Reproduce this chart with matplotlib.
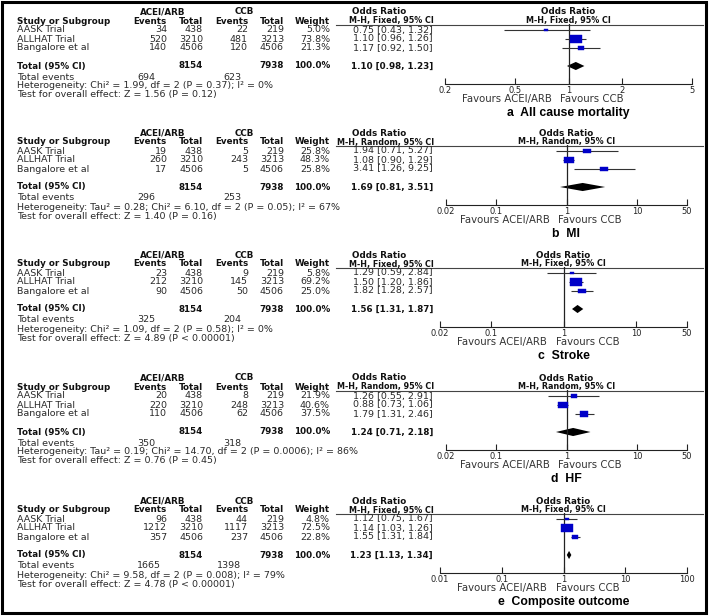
import matplotlib as mpl
import matplotlib.pyplot as plt
import numpy as np
from matplotlib.path import Path
from matplotlib.patches import Rectangle

mpl.rcParams.update({
    "font.family": ["DejaVu Sans"],
    "font.size": 6.8,
    "text.color": "#222222",
})

W, H = 709, 616
INK = "#222222"
BOX = "#0000C8"
HEAD_SIZE = 6.3   # bold column headers
MH_SIZE = 5.8     # "M-H, Fixed, 95% CI" header lines

# shared study columns
studies = ["AASK Trial", "ALLHAT Trial", "Bangalore et al"]
acei_total = [438, 3210, 4506]
ccb_total = [219, 3213, 4506]
acei_sum, ccb_sum = 8154, 7938

# a  all cause mortality
mort_acei = [34, 520, 140]
mort_ccb = [22, 481, 120]
mort_weight = [5.0, 73.8, 21.3]
mort_or = [0.75, 1.10, 1.17]
mort_lo = [0.43, 0.96, 0.92]
mort_hi = [1.32, 1.26, 1.50]
mort_pooled = [1.10, 0.98, 1.23]
mort_events = [694, 623]

# b  MI
mi_acei = [19, 260, 17]
mi_ccb = [5, 243, 5]
mi_weight = [25.8, 48.3, 25.8]
mi_or = [1.94, 1.08, 3.41]
mi_lo = [0.71, 0.90, 1.26]
mi_hi = [5.27, 1.29, 9.25]
mi_pooled = [1.69, 0.81, 3.51]
mi_events = [296, 253]

# c  stroke
stroke_acei = [23, 212, 90]
stroke_ccb = [9, 145, 50]
stroke_weight = [5.8, 69.2, 25.0]
stroke_or = [1.29, 1.50, 1.82]
stroke_lo = [0.59, 1.20, 1.28]
stroke_hi = [2.84, 1.86, 2.57]
stroke_pooled = [1.56, 1.31, 1.87]
stroke_events = [325, 204]

# d  HF
hf_acei = [20, 220, 110]
hf_ccb = [8, 248, 62]
hf_weight = [21.9, 40.6, 37.5]
hf_or = [1.26, 0.88, 1.79]
hf_lo = [0.55, 0.73, 1.31]
hf_hi = [2.91, 1.06, 2.46]
hf_pooled = [1.24, 0.71, 2.18]
hf_events = [350, 318]

# e  composite outcome
comp_acei = [96, 1212, 357]
comp_ccb = [44, 1117, 237]
comp_weight = [4.8, 72.5, 22.8]
comp_or = [1.12, 1.14, 1.55]
comp_lo = [0.75, 1.03, 1.31]
comp_hi = [1.67, 1.26, 1.84]
comp_pooled = [1.23, 1.13, 1.34]
comp_events = [1665, 1398]

ticks_a = [0.2, 0.5, 1, 2, 5]
ticks_wide = [0.02, 0.1, 1, 10, 50]
ticks_e = [0.01, 0.1, 1, 10, 100]

panels = [
    dict(title="a  All cause mortality", method="Fixed", ticks=ticks_a,
         acei=mort_acei, ccb=mort_ccb, weight=mort_weight, odds=mort_or,
         lo=mort_lo, hi=mort_hi, pooled=mort_pooled, events=mort_events,
         het="Heterogeneity: Chi\u00b2 = 1.99, df = 2 (P = 0.37); I\u00b2 = 0%",
         test="Test for overall effect: Z = 1.56 (P = 0.12)"),
    dict(title="b  MI", method="Random", ticks=ticks_wide,
         acei=mi_acei, ccb=mi_ccb, weight=mi_weight, odds=mi_or,
         lo=mi_lo, hi=mi_hi, pooled=mi_pooled, events=mi_events,
         het="Heterogeneity: Tau\u00b2 = 0.28; Chi\u00b2 = 6.10, df = 2 (P = 0.05); I\u00b2 = 67%",
         test="Test for overall effect: Z = 1.40 (P = 0.16)"),
    dict(title="c  Stroke", method="Fixed", ticks=ticks_wide,
         acei=stroke_acei, ccb=stroke_ccb, weight=stroke_weight, odds=stroke_or,
         lo=stroke_lo, hi=stroke_hi, pooled=stroke_pooled, events=stroke_events,
         het="Heterogeneity: Chi\u00b2 = 1.09, df = 2 (P = 0.58); I\u00b2 = 0%",
         test="Test for overall effect: Z = 4.89 (P < 0.00001)"),
    dict(title="d  HF", method="Random", ticks=ticks_wide,
         acei=hf_acei, ccb=hf_ccb, weight=hf_weight, odds=hf_or,
         lo=hf_lo, hi=hf_hi, pooled=hf_pooled, events=hf_events,
         het="Heterogeneity: Tau\u00b2 = 0.19; Chi\u00b2 = 14.70, df = 2 (P = 0.0006); I\u00b2 = 86%",
         test="Test for overall effect: Z = 0.76 (P = 0.45)"),
    dict(title="e  Composite outcome", method="Fixed", ticks=ticks_e,
         acei=comp_acei, ccb=comp_ccb, weight=comp_weight, odds=comp_or,
         lo=comp_lo, hi=comp_hi, pooled=comp_pooled, events=comp_events,
         het="Heterogeneity: Chi\u00b2 = 9.58, df = 2 (P = 0.008); I\u00b2 = 79%",
         test="Test for overall effect: Z = 4.78 (P < 0.00001)"),
]

# layout (pixels): panel tops and forest-plot horizontal extent
panel_top = [0, 121, 243, 366, 489]
forest_x = [(445, 692), (446, 687), (440, 687), (446, 687), (440, 687)]

BOX_PATH = Path([(-1, -0.62), (1, -0.62), (1, 0.62), (-1, 0.62), (-1, -0.62)],
                [Path.MOVETO, Path.LINETO, Path.LINETO, Path.LINETO, Path.CLOSEPOLY])


def fmt_ci(o, lo, hi):
    return f"{o:.2f} [{lo:.2f}, {hi:.2f}]"


def draw_table(bg, p, top):
    y = lambda d: top + d
    kw = dict(va="center", color="#2a2a2a")
    head = dict(va="center", color="#111111", weight="bold", fontsize=HEAD_SIZE)
    bold = dict(va="center", color="#111111", weight="bold", fontsize=6.3)
    bg.text(163, y(12), "ACEI/ARB", ha="center", **head)
    bg.text(244, y(12), "CCB", ha="center", **head)
    bg.text(379, y(12), "Odds Ratio", ha="center", **head)
    bg.text(17, y(21), "Study or Subgroup", ha="left", **head)
    for x, s in [(167, "Events"), (203, "Total"), (248, "Events"),
                 (284, "Total"), (330, "Weight")]:
        bg.text(x, y(21), s, ha="right", **head)
    bg.text(434, y(21), f"M-H, {p['method']}, 95% CI", ha="right",
            **dict(head, fontsize=MH_SIZE))
    bg.plot([336, 703], [y(24.5), y(24.5)], color="#444444", lw=0.8)

    for i, name in enumerate(studies):
        ry = y(30 + 9 * i)
        bg.text(17, ry, name, ha="left", **kw)
        bg.text(167, ry, str(p["acei"][i]), ha="right", **kw)
        bg.text(203, ry, str(acei_total[i]), ha="right", **kw)
        bg.text(248, ry, str(p["ccb"][i]), ha="right", **kw)
        bg.text(284, ry, str(ccb_total[i]), ha="right", **kw)
        bg.text(330, ry, f"{p['weight'][i]:.1f}%", ha="right", **kw)
        bg.text(433, ry, fmt_ci(p["odds"][i], p["lo"][i], p["hi"][i]),
                ha="right", **kw)

    ty = y(66)
    bg.text(17, ty, "Total (95% CI)", ha="left", **bold)
    bg.text(203, ty, str(acei_sum), ha="right", **bold)
    bg.text(284, ty, str(ccb_sum), ha="right", **bold)
    bg.text(330, ty, "100.0%", ha="right", **bold)
    bg.text(433, ty, fmt_ci(*p["pooled"]), ha="right", **bold)

    bg.text(17, y(77), "Total events", ha="left", **kw)
    bg.text(137, y(77), str(p["events"][0]), ha="left", **kw)
    bg.text(241, y(77), str(p["events"][1]), ha="right", **kw)
    bg.text(17, y(86), p["het"], ha="left", **kw)
    bg.text(17, y(95), p["test"], ha="left", **kw)


def draw_forest(fig, p, top, xr):
    x0, x1 = xr
    ax = fig.add_axes([x0 / W, 1 - (top + 84) / H, (x1 - x0) / W, 60 / H])
    ax.set_xscale("log")
    ax.set_xlim(p["ticks"][0], p["ticks"][-1])
    ax.set_ylim(6.0, -0.667)
    ax.patch.set_alpha(0)
    for side in ("top", "left", "right"):
        ax.spines[side].set_visible(False)
    ax.spines["bottom"].set_color(INK)
    ax.spines["bottom"].set_linewidth(0.8)
    ax.set_yticks([])
    ax.set_xticks(p["ticks"], [f"{t:g}" for t in p["ticks"]])
    ax.minorticks_off()
    ax.tick_params(axis="x", direction="in", length=4, width=0.8,
                   labelsize=6, pad=1.2, colors=INK)
    ax.axvline(1, color=INK, lw=0.9)

    # column header above the plot
    ax.annotate("Odds Ratio", xy=(1, 1), xycoords=("data", "axes fraction"),
                xytext=(0, 12), textcoords="offset pixels", ha="center",
                va="center", fontsize=HEAD_SIZE, weight="bold", color="#111111")
    ax.annotate(f"M-H, {p['method']}, 95% CI", xy=(1, 1),
                xycoords=("data", "axes fraction"), xytext=(0, 3.5),
                textcoords="offset pixels", ha="center", va="center",
                fontsize=MH_SIZE, weight="bold", color="#111111")

    rows = np.arange(len(studies))
    ax.hlines(rows, p["lo"], p["hi"], color="#333333", lw=0.8)
    for r, o, w in zip(rows, p["odds"], p["weight"]):
        width_px = max(1.45 * np.sqrt(w), 3.0)
        ax.plot(o, r, marker=BOX_PATH, ms=width_px * 0.72, color=BOX,
                mec=BOX, mew=0.3, ls="none")
    est, lo, hi = p["pooled"]
    tr = 4.0
    ax.fill([lo, est, hi, est], [tr, tr - 0.45, tr, tr + 0.45], color="black", lw=0)

    ax.annotate("Favours ACEI/ARB", xy=(1, 0), xycoords=("data", "axes fraction"),
                xytext=(-17, -15), textcoords="offset pixels", ha="right",
                va="center", fontsize=7.3, color="#333333")
    ax.annotate("Favours CCB", xy=(1, 0), xycoords=("data", "axes fraction"),
                xytext=(-8, -15), textcoords="offset pixels", ha="left",
                va="center", fontsize=7.3, color="#333333")
    ax.annotate(p["title"], xy=(1, 0), xycoords=("data", "axes fraction"),
                xytext=(0, -29), textcoords="offset pixels", ha="center",
                va="center", fontsize=8.8, weight="bold", color="black",
                family="Liberation Sans")


fig = plt.figure(figsize=(W / 100, H / 100), dpi=100)
bg = fig.add_axes([0, 0, 1, 1])
bg.set_xlim(0, W)
bg.set_ylim(H, 0)
bg.axis("off")

for p, top, xr in zip(panels, panel_top, forest_x):
    draw_table(bg, p, top)
    draw_forest(fig, p, top, xr)

bg.add_patch(Rectangle((2, 2), 704, 611, fill=False, lw=2.2, edgecolor="black"))

fig.savefig("out.png", dpi=100)
